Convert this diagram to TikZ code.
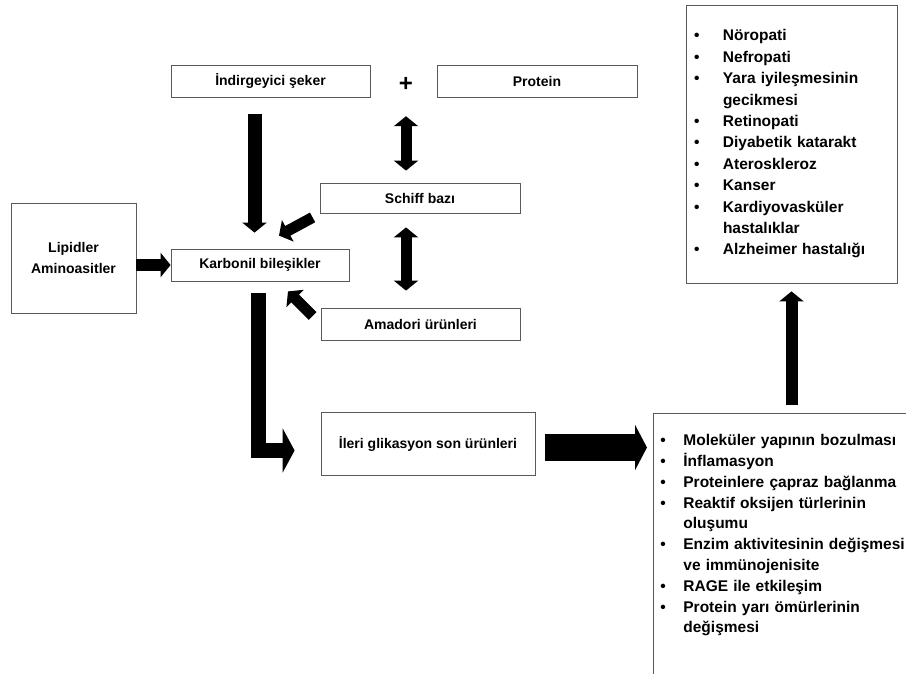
\documentclass[tikz,border=0pt]{standalone}
\usepackage{fontspec}
\setmainfont{Liberation Sans}
\usetikzlibrary{arrows.meta}
\newcommand{\blt}[1]{\makebox[#1][l]{\textbullet}}
\newcommand{\cnt}[1]{\hspace*{#1}}

\begin{document}
\begin{tikzpicture}[x=1pt,y=-1pt,
  box/.style={draw=black!65,line width=0.8pt,inner sep=0pt,minimum height=32pt,font=\bfseries\fontsize{14}{21.5}\selectfont},
  lst/.style={draw=black!65,line width=0.8pt,align=left,inner xsep=7pt,font=\bfseries\fontsize{15.5}{20.8}\selectfont},
  push/.style={line width=12pt,-{Triangle[length=10pt,width=24pt]}},
  both/.style={line width=11pt,{Triangle[length=10pt,width=24pt]}-{Triangle[length=10pt,width=24pt]}},
  big/.style={line width=27pt,-{Triangle[length=12pt,width=45pt]},line join=miter}]
\useasboundingbox (0,0) rectangle (906,673);
\clip (0,0) rectangle (906,673);
\node[box,minimum width=199pt] (ind) at (270.5,81) {İndirgeyici şeker};
\node[box,minimum width=200pt] (prot) at (537,81) {Protein};
\node[font=\bfseries\fontsize{24}{24}\selectfont,inner sep=0pt] (plus) at (406,84) {+};
\node[box,minimum width=200pt,minimum height=30pt] (schiff) at (420,198) {Schiff bazı};
\node[box,minimum width=178pt] (karb) at (260,265) {Karbonil bileşikler};
\node[box,minimum width=125pt,minimum height=110pt,align=center] (lip) at (73.5,258) {Lipidler\\Aminoasitler};
\node[box,minimum width=199pt] (amad) at (420.5,324) {Amadori ürünleri};
\node[box,minimum width=214pt,minimum height=63pt] (ileri) at (428,443.5) {İleri glikasyon son ürünleri};
\node[lst,text width=260pt,inner ysep=21pt,text depth=240pt,anchor=north west] (eff) at (653,413) {%
\blt{23pt}Moleküler yapının bozulması\\
\blt{23pt}İnflamasyon\\
\blt{23pt}Proteinlere çapraz bağlanma\\
\blt{23pt}Reaktif oksijen türlerinin\\
\cnt{23pt}oluşumu\\
\blt{23pt}Enzim aktivitesinin değişmesi\\
\cnt{23pt}ve immünojenisite\\
\blt{23pt}RAGE ile etkileşim\\
\blt{23pt}Protein yarı ömürlerinin\\
\cnt{23pt}değişmesi};
\node[lst,text width=195pt,inner xsep=8pt,minimum height=278pt,font=\bfseries\fontsize{15.5}{21.4}\selectfont] (dis) at (791.5,144) {%
\blt{29pt}Nöropati\\
\blt{29pt}Nefropati\\
\blt{29pt}Yara iyileşmesinin\\
\cnt{29pt}gecikmesi\\
\blt{29pt}Retinopati\\
\blt{29pt}Diyabetik katarakt\\
\blt{29pt}Ateroskleroz\\
\blt{29pt}Kanser\\
\blt{29pt}Kardiyovasküler\\
\cnt{29pt}hastalıklar\\
\blt{29pt}Alzheimer hastalığı};
% arrows
\draw[push,line width=14pt,shorten <=17pt,shorten >=16pt] ([shift={(-16,0)}]ind.south) -- ([shift={(-5.5,0)}]karb.north);
\draw[both,shorten <=12pt,shorten >=25pt] (schiff.north -| plus) -- (plus);
\draw[both,shorten <=14pt,shorten >=17pt] (schiff.south -| plus) -- (amad.north -| plus);
\draw[push,line width=11pt] ([shift={(-7,4)}]schiff.south west) -- ([shift={(19,-13)}]karb.north);
\draw[push,line width=11pt] ([shift={(-8,-8)}]amad.west) -- ([shift={(28,10)}]karb.south);
\draw[push] (lip.east |- karb) -- (karb.west);
\draw[big,line width=15pt,-{Triangle[length=12pt,width=44pt]},shorten <=12pt] ([shift={(-1.5,0)}]karb.south) |- ([shift={(-26,7)}]ileri.west);
\draw[big,shorten <=10pt,shorten >=6pt] ([shift={(0,4)}]ileri.east) -- ([shift={(0,4)}]ileri.east -| eff.west);
\draw[push,shorten <=8pt,shorten >=8pt] (eff.north -| dis.south) -- (dis.south);
\end{tikzpicture}
\end{document}
